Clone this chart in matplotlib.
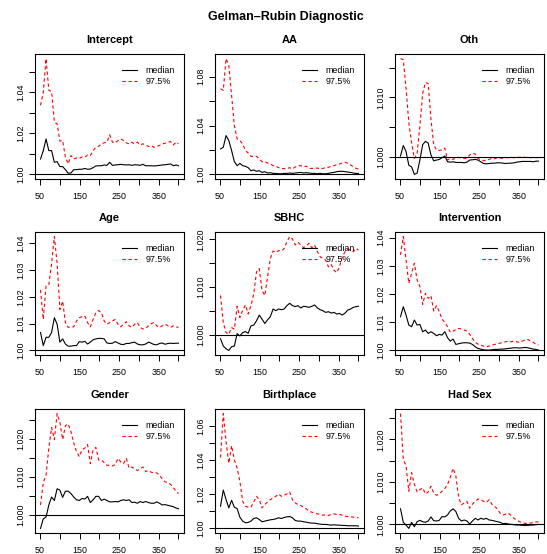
import matplotlib
matplotlib.use("Agg")
import matplotlib.pyplot as plt
from matplotlib.ticker import MultipleLocator, FuncFormatter

plt.rcParams['font.family'] = ['Liberation Sans', 'DejaVu Sans']

# last iteration of each bin
iterations = [51, 58, 65, 72, 79, 86, 93, 100, 107, 114, 121, 128, 135, 142, 149,
              156, 163, 170, 177, 184, 191, 198, 205, 212, 219, 226, 233, 240, 247,
              254, 261, 268, 275, 282, 289, 296, 303, 310, 317, 324, 331, 338, 345,
              352, 359, 366, 373, 380, 387, 394, 400]

params = ["Intercept", "AA", "Oth", "Age", "SBHC", "Intervention",
          "Gender", "Birthplace", "Had Sex"]

intercept_median = [1.0075, 1.0116, 1.0173, 1.0116, 1.0116, 1.0059, 1.0062, 1.0038, 1.0038, 1.0023,
                    1.0005, 1.0007, 1.0023, 1.0023, 1.0025, 1.0025, 1.0029, 1.0025, 1.0026, 1.0033,
                    1.0041, 1.0042, 1.0042, 1.0046, 1.0044, 1.0059, 1.0044, 1.0046, 1.0047, 1.0049,
                    1.0047, 1.0046, 1.0047, 1.0044, 1.0047, 1.0046, 1.0044, 1.0049, 1.0042, 1.0042,
                    1.0042, 1.0041, 1.0042, 1.0044, 1.0046, 1.0047, 1.0049, 1.0051, 1.0042, 1.0046,
                    1.0042]
intercept_q975 = [1.0337, 1.0402, 1.0565, 1.0410, 1.0405, 1.0255, 1.0247, 1.0162, 1.0165, 1.0083,
                  1.0051, 1.0092, 1.0075, 1.0080, 1.0078, 1.0085, 1.0083, 1.0095, 1.0092, 1.0116,
                  1.0132, 1.0137, 1.0149, 1.0154, 1.0157, 1.0193, 1.0157, 1.0154, 1.0165, 1.0173,
                  1.0165, 1.0154, 1.0149, 1.0157, 1.0149, 1.0157, 1.0144, 1.0149, 1.0144, 1.0136,
                  1.0141, 1.0132, 1.0137, 1.0141, 1.0149, 1.0152, 1.0157, 1.0160, 1.0144, 1.0157,
                  1.0149]

aa_median = [1.0208, 1.0222, 1.0318, 1.0277, 1.0195, 1.0104, 1.0071, 1.0090, 1.0071, 1.0066,
             1.0055, 1.0030, 1.0036, 1.0025, 1.0030, 1.0016, 1.0022, 1.0011, 1.0014, 1.0008,
             1.0008, 1.0005, 1.0005, 1.0008, 1.0008, 1.0011, 1.0008, 1.0011, 1.0014, 1.0016,
             1.0011, 1.0014, 1.0011, 1.0008, 1.0008, 1.0005, 1.0008, 1.0005, 1.0005, 1.0008,
             1.0014, 1.0016, 1.0022, 1.0025, 1.0025, 1.0022, 1.0019, 1.0016, 1.0011, 1.0008,
             1.0008]
aa_q975 = [1.0701, 1.0688, 1.0948, 1.0893, 1.0647, 1.0400, 1.0290, 1.0277, 1.0249, 1.0195,
           1.0175, 1.0148, 1.0145, 1.0148, 1.0126, 1.0104, 1.0104, 1.0093, 1.0085, 1.0071,
           1.0066, 1.0055, 1.0049, 1.0047, 1.0047, 1.0055, 1.0044, 1.0060, 1.0071, 1.0071,
           1.0063, 1.0066, 1.0049, 1.0049, 1.0049, 1.0052, 1.0044, 1.0049, 1.0055, 1.0058,
           1.0066, 1.0071, 1.0079, 1.0085, 1.0093, 1.0099, 1.0090, 1.0077, 1.0063, 1.0049,
           1.0044]

oth_median = [1.00017, 1.00194, 1.00091, 0.99863, 0.99834, 0.99709, 0.99731, 0.99949, 1.00206, 1.00263,
              1.00234, 1.00034, 0.99937, 0.99949, 0.99960, 0.99989, 1.00017, 0.99920, 0.99914, 0.99920,
              0.99909, 0.99909, 0.99909, 0.99903, 0.99914, 0.99949, 0.99954, 0.99960, 0.99949, 0.99920,
              0.99891, 0.99886, 0.99891, 0.99897, 0.99897, 0.99903, 0.99903, 0.99897, 0.99891, 0.99897,
              0.99897, 0.99903, 0.99914, 0.99920, 0.99926, 0.99926, 0.99926, 0.99926, 0.99920, 0.99931,
              0.99931]
oth_q975 = [1.01651, 1.01634, 1.01149, 1.00577, 1.00234, 0.99977, 1.00063, 1.00520, 1.01063, 1.01251,
            1.01234, 1.00634, 1.00206, 1.00120, 1.00109, 1.00120, 1.00149, 0.99949, 0.99977, 0.99960,
            0.99989, 0.99994, 0.99983, 0.99977, 0.99983, 1.00034, 1.00063, 1.00051, 0.99977, 0.99949,
            0.99937, 0.99949, 0.99960, 0.99977, 0.99971, 0.99989, 0.99983, 0.99977, 0.99989, 0.99989,
            0.99994, 0.99989, 0.99994, 0.99994, 1.00000, 0.99994, 0.99989, 0.99989, 0.99994, 0.99989,
            0.99989]

age_median = [1.0067, 1.0018, 1.0049, 1.0049, 1.0067, 1.0122, 1.0098, 1.0031, 1.0043, 1.0024,
              1.0016, 1.0016, 1.0018, 1.0018, 1.0033, 1.0031, 1.0034, 1.0024, 1.0031, 1.0040,
              1.0043, 1.0045, 1.0045, 1.0043, 1.0028, 1.0026, 1.0027, 1.0033, 1.0028, 1.0023,
              1.0022, 1.0026, 1.0026, 1.0029, 1.0031, 1.0024, 1.0021, 1.0021, 1.0024, 1.0031,
              1.0027, 1.0022, 1.0021, 1.0026, 1.0028, 1.0023, 1.0026, 1.0027, 1.0026, 1.0027,
              1.0027]
age_q975 = [1.0226, 1.0116, 1.0241, 1.0245, 1.0324, 1.0425, 1.0324, 1.0153, 1.0184, 1.0104,
            1.0086, 1.0088, 1.0088, 1.0110, 1.0122, 1.0126, 1.0129, 1.0104, 1.0088, 1.0116,
            1.0141, 1.0149, 1.0141, 1.0110, 1.0098, 1.0104, 1.0110, 1.0116, 1.0098, 1.0088,
            1.0098, 1.0107, 1.0092, 1.0086, 1.0098, 1.0104, 1.0086, 1.0080, 1.0082, 1.0092,
            1.0100, 1.0104, 1.0092, 1.0086, 1.0092, 1.0098, 1.0092, 1.0086, 1.0092, 1.0088,
            1.0086]

sbhc_median = [0.99915, 0.99760, 0.99703, 0.99668, 0.99746, 0.99760, 1.00021, 0.99972, 1.00042, 1.00064,
               1.00028, 1.00184, 1.00198, 1.00290, 1.00410, 1.00325, 1.00233, 1.00311, 1.00375, 1.00537,
               1.00502, 1.00537, 1.00523, 1.00537, 1.00608, 1.00657, 1.00608, 1.00587, 1.00608, 1.00558,
               1.00594, 1.00587, 1.00572, 1.00594, 1.00622, 1.00558, 1.00523, 1.00502, 1.00466, 1.00481,
               1.00452, 1.00466, 1.00431, 1.00445, 1.00410, 1.00452, 1.00516, 1.00537, 1.00572, 1.00587,
               1.00594]
sbhc_q975 = [1.00820, 1.00254, 1.00042, 1.00007, 1.00148, 1.00113, 1.00594, 1.00360, 1.00502, 1.00622,
             1.00431, 1.00608, 1.00855, 1.01314, 1.01385, 1.00926, 1.00820, 1.01208, 1.01597, 1.01753,
             1.01724, 1.01760, 1.01753, 1.01809, 1.01950, 1.02057, 1.02007, 1.01880, 1.01936, 1.01880,
             1.01823, 1.01866, 1.01915, 1.01823, 1.01880, 1.01739, 1.01633, 1.01597, 1.01562, 1.01420,
             1.01470, 1.01350, 1.01300, 1.01420, 1.01633, 1.01739, 1.01795, 1.01774, 1.01739, 1.01809,
             1.01774]

intervention_median = [1.01195, 1.01550, 1.01254, 1.00899, 1.00840, 1.01077, 1.00899, 1.00923, 1.00663, 1.00722,
                       1.00604, 1.00663, 1.00604, 1.00521, 1.00568, 1.00544, 1.00663, 1.00450, 1.00331, 1.00402,
                       1.00213, 1.00237, 1.00260, 1.00272, 1.00272, 1.00260, 1.00213, 1.00130, 1.00071, 1.00047,
                       1.00024, 1.00012, 1.00012, 1.00024, 1.00036, 1.00036, 1.00047, 1.00047, 1.00059, 1.00071,
                       1.00083, 1.00095, 1.00095, 1.00083, 1.00095, 1.00107, 1.00095, 1.00071, 1.00047, 1.00036,
                       1.00012]
intervention_q975 = [1.03385, 1.04036, 1.03207, 1.02379, 1.02734, 1.03089, 1.02497, 1.02260, 1.01633, 1.02024,
                     1.01846, 1.01941, 1.01396, 1.01586, 1.01373, 1.01112, 1.00994, 1.00840, 1.00639, 1.00686,
                     1.00734, 1.00781, 1.00757, 1.00722, 1.00686, 1.00568, 1.00426, 1.00284, 1.00225, 1.00189,
                     1.00154, 1.00130, 1.00154, 1.00189, 1.00213, 1.00237, 1.00260, 1.00284, 1.00308, 1.00331,
                     1.00308, 1.00331, 1.00308, 1.00284, 1.00331, 1.00367, 1.00391, 1.00331, 1.00284, 1.00213,
                     1.00189]

gender_median = [0.99635, 0.99890, 0.99936, 1.00256, 1.00466, 1.00374, 1.00685, 1.00648, 1.00457, 1.00621,
                 1.00621, 1.00557, 1.00466, 1.00393, 1.00374, 1.00429, 1.00411, 1.00484, 1.00320, 1.00393,
                 1.00484, 1.00484, 1.00374, 1.00411, 1.00374, 1.00338, 1.00338, 1.00347, 1.00338, 1.00374,
                 1.00393, 1.00374, 1.00393, 1.00320, 1.00329, 1.00301, 1.00347, 1.00320, 1.00347, 1.00320,
                 1.00301, 1.00301, 1.00338, 1.00301, 1.00256, 1.00265, 1.00247, 1.00228, 1.00210, 1.00174,
                 1.00155]
gender_q975 = [1.00256, 1.00849, 1.01050, 1.01763, 1.02311, 1.01991, 1.02676, 1.02447, 1.01991, 1.02356,
               1.02402, 1.02192, 1.01900, 1.01671, 1.01534, 1.01717, 1.01763, 1.01854, 1.01352, 1.01717,
               1.01781, 1.01443, 1.01443, 1.01379, 1.01306, 1.01306, 1.01288, 1.01324, 1.01489, 1.01397,
               1.01352, 1.01489, 1.01233, 1.01260, 1.01215, 1.01169, 1.01215, 1.01260, 1.01142, 1.01169,
               1.01123, 1.01105, 1.01105, 1.01050, 1.00941, 1.00868, 1.00849, 1.00804, 1.00712, 1.00621,
               1.00557]

birthplace_median = [1.01296, 1.02244, 1.01683, 1.01199, 1.01644, 1.01238, 1.01160, 1.00658, 1.00426, 1.00329,
                     1.00348, 1.00426, 1.00580, 1.00619, 1.00522, 1.00387, 1.00426, 1.00464, 1.00503, 1.00522,
                     1.00561, 1.00619, 1.00580, 1.00638, 1.00677, 1.00696, 1.00619, 1.00464, 1.00426, 1.00426,
                     1.00387, 1.00368, 1.00329, 1.00309, 1.00309, 1.00271, 1.00251, 1.00232, 1.00232, 1.00213,
                     1.00193, 1.00213, 1.00193, 1.00193, 1.00174, 1.00174, 1.00155, 1.00155, 1.00155, 1.00155,
                     1.00135]
birthplace_q975 = [1.04139, 1.06712, 1.05068, 1.03810, 1.04836, 1.04004, 1.03520, 1.02747, 1.01586, 1.01296,
                   1.01238, 1.01238, 1.01547, 1.01876, 1.01683, 1.01199, 1.01393, 1.01547, 1.01683, 1.01780,
                   1.01876, 1.02012, 1.01876, 1.01934, 1.02012, 1.02128, 1.01683, 1.01489, 1.01393, 1.01335,
                   1.01238, 1.01141, 1.01006, 1.00948, 1.00890, 1.00851, 1.00812, 1.00774, 1.00793, 1.00754,
                   1.00812, 1.00851, 1.00812, 1.00812, 1.00774, 1.00716, 1.00696, 1.00677, 1.00658, 1.00638,
                   1.00619]

hadsex_median = [1.00365, 1.00048, 0.99984, 0.99905, 1.00048, 0.99944, 1.00063, 1.00095, 1.00063, 1.00048,
                 1.00079, 1.00175, 1.00087, 1.00079, 1.00095, 1.00183, 1.00175, 1.00222, 1.00317, 1.00365,
                 1.00302, 1.00143, 1.00079, 1.00103, 1.00079, 1.00008, 1.00079, 1.00143, 1.00103, 1.00143,
                 1.00119, 1.00143, 1.00103, 1.00095, 1.00079, 1.00063, 1.00048, 1.00016, 1.00024, 1.00008,
                 1.00000, 0.99992, 0.99984, 0.99984, 0.99976, 0.99976, 0.99976, 0.99984, 0.99984, 0.99992,
                 1.00000]
hadsex_q975 = [1.02603, 1.01532, 1.01373, 1.00778, 1.01214, 1.00937, 1.00762, 1.00817, 1.00857, 1.00714,
               1.00762, 1.00897, 1.00738, 1.00683, 1.00714, 1.00778, 1.00841, 1.00937, 1.01111, 1.01317,
               1.01135, 1.00635, 1.00460, 1.00500, 1.00540, 1.00381, 1.00476, 1.00540, 1.00595, 1.00579,
               1.00540, 1.00516, 1.00579, 1.00476, 1.00421, 1.00365, 1.00262, 1.00222, 1.00238, 1.00262,
               1.00206, 1.00143, 1.00103, 1.00063, 1.00040, 1.00024, 1.00024, 1.00032, 1.00040, 1.00056,
               1.00063]

medians = [intercept_median, aa_median, oth_median, age_median, sbhc_median,
           intervention_median, gender_median, birthplace_median, hadsex_median]
upper = [intercept_q975, aa_q975, oth_q975, age_q975, sbhc_q975,
         intervention_q975, gender_q975, birthplace_q975, hadsex_q975]

# y-axis tick step, label every n-th tick, decimals
yaxis_style = [(0.01, 2, 2), (0.02, 2, 2), (0.005, 2, 3),
               (0.01, 1, 2), (0.005, 2, 3), (0.01, 1, 2),
               (0.005, 2, 3), (0.01, 2, 2), (0.005, 2, 3)]

x_ticks = [50, 100, 150, 200, 250, 300, 350, 400]
x_ticklabels = ["50", "", "150", "", "250", "", "350", ""]

W, H = 547, 554
fig = plt.figure(figsize=(W / 100, H / 100), dpi=100)

col_left = [35, 215, 395]
row_top = [54, 232, 409]
row_bottom = [179, 355, 533]
ax_w = 149

fs_tick = 6.4
for k, name in enumerate(params):
    r, c = divmod(k, 3)
    left = col_left[c] / W
    bottom = 1 - row_bottom[r] / H
    height = (row_bottom[r] - row_top[r]) / H
    ax = fig.add_axes([left, bottom, ax_w / W, height])

    med = medians[k]
    up = upper[k]
    ax.plot(iterations, med, color="black", lw=0.8, label="median")
    ax.plot(iterations, up, color="red", lw=0.8, dashes=(3.0, 2.4), label="97.5%")
    ax.axhline(1.0, color="black", lw=0.8)

    lo = min(1.0, min(med), min(up))
    hi = max(1.0, max(med), max(up))
    pad = 0.04 * (hi - lo)
    ax.set_ylim(lo - pad, hi + pad)
    xr = iterations[-1] - iterations[0]
    ax.set_xlim(iterations[0] - 0.04 * xr, iterations[-1] + 0.04 * xr)

    step, every, dec = yaxis_style[k]
    ax.yaxis.set_major_locator(MultipleLocator(step))

    def fmt(v, pos, step=step, every=every, dec=dec):
        idx = int(round((v - 1.0) / step))
        if idx % every != 0:
            return ""
        return f"{v:.{dec}f}"
    ax.yaxis.set_major_formatter(FuncFormatter(fmt))
    ax.tick_params(axis="y", labelrotation=90, labelsize=fs_tick,
                   length=4, width=0.7, pad=3.0, direction="out")
    for t in ax.yaxis.get_major_ticks():
        t.label1.set_va("center")

    ax.set_xticks(x_ticks)
    ax.set_xticklabels(x_ticklabels)
    ax.tick_params(axis="x", labelsize=fs_tick, length=4, width=0.7,
                   pad=5.5, direction="out")

    for s in ax.spines.values():
        s.set_linewidth(0.8)
        s.set_color("black")

    ax.text(0.5, 1 + 14 / 125, name, transform=ax.transAxes, ha="center",
            va="center", fontsize=7.9, fontweight="bold")

    ax.legend(loc="upper left", bbox_to_anchor=(0.585, 0.90), frameon=False,
              fontsize=fs_tick, handlelength=1.7, handletextpad=0.9,
              labelspacing=0.2, borderpad=0, borderaxespad=0)

fig.text(285.5 / W, 1 - 17 / H, "Gelman\u2013Rubin Diagnostic", ha="center",
         va="center", fontsize=9, fontweight="bold")

fig.savefig("out.png", dpi=100)
